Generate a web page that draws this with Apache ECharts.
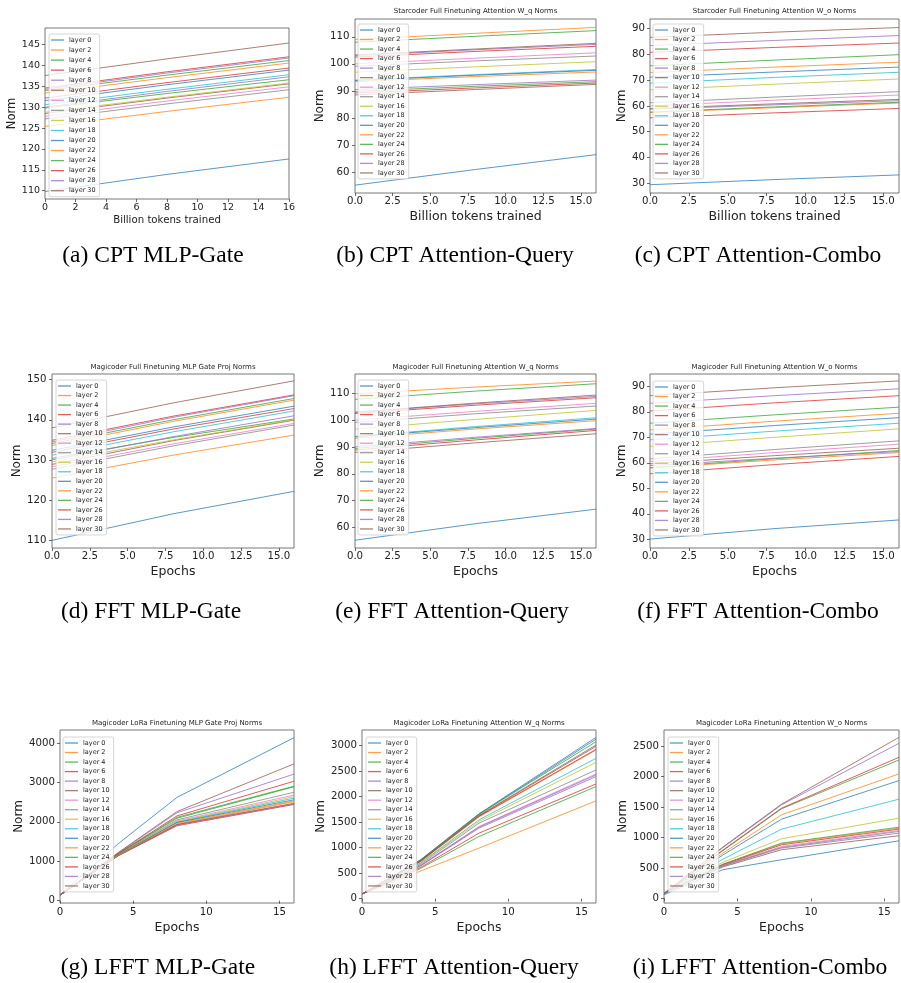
<!DOCTYPE html>
<html>
<head>
<meta charset="utf-8">
<script src="https://cdn.jsdelivr.net/npm/echarts@6/dist/echarts.min.js"></script>
<style>
html,body{margin:0;padding:0;background:#fff;}
#chart{width:901px;height:983px;}
</style>
</head>
<body>
<div id="chart"></div>
<script>
// ---------- data ----------
const layers = ['layer 0','layer 2','layer 4','layer 6','layer 8','layer 10','layer 12','layer 14',
  'layer 16','layer 18','layer 20','layer 22','layer 24','layer 26','layer 28','layer 30'];
const layerColors = ['#1f77b4','#ff7f0e','#2ca02c','#d62728','#9467bd','#8c564b','#e377c2','#7f7f7f',
  '#bcbd22','#17becf','#1f77b4','#ff7f0e','#2ca02c','#d62728','#9467bd','#8c564b'];

const xTokens = [0, 8, 16];
const xEpochsFull = [0, 8, 16];
const xEpochsLora = [0, 4, 8, 16];

// (a) Starcoder CPT MLP gate
const cptMlpGate = [
  [109.8,113.9,117.6],[125.4,129.0,132.4],[129.8,133.3,136.6],[134.6,138.5,142.1],
  [134.3,138.2,141.8],[128.5,132.2,135.6],[127.8,131.5,134.9],[127.2,130.8,134.2],
  [128.8,132.4,135.8],[130.6,134.3,137.8],[131.6,135.4,138.9],[133.4,137.1,140.6],
  [134.0,137.7,141.2],[132.2,135.9,139.4],[130.0,133.8,137.3],[137.6,141.6,145.4]];
// (b) Starcoder CPT attention W_q
const cptAttnQ = [
  [55.1,60.9,66.4],[109.0,111.3,113.5],[108.0,110.2,112.3],[102.5,104.6,106.5],
  [103.0,105.2,107.2],[103.3,105.5,107.6],[100.0,102.1,104.1],[99.1,101.1,102.9],
  [96.9,98.9,100.8],[94.0,96.0,97.9],[93.8,95.8,97.6],[93.4,95.3,97.0],
  [89.8,91.7,93.4],[89.2,91.1,92.9],[90.5,92.3,94.0],[88.5,90.5,92.4]];
// (c) Starcoder CPT attention W_o
const cptAttnO = [
  [29.5,31.5,33.3],[57.4,59.3,61.1],[57.6,59.6,61.4],[55.4,57.3,59.0],
  [58.7,60.4,62.0],[59.0,60.8,62.5],[60.0,62.2,64.2],[61.2,63.4,65.5],
  [66.2,68.4,70.4],[68.8,71.0,73.0],[71.1,73.1,75.0],[72.9,75.0,76.9],
  [75.5,77.7,79.8],[80.7,82.6,84.3],[83.3,85.3,87.2],[86.5,88.5,90.3]];
// (d) Magicoder FFT MLP gate
const fftMlpGate = [
  [110.0,116.6,122.2],[125.5,131.2,136.2],[130.4,135.6,140.2],[134.9,140.9,146.2],
  [134.5,140.6,146.0],[128.9,134.8,139.9],[128.3,134.0,139.1],[127.7,133.5,138.7],
  [129.5,135.0,140.0],[131.2,137.0,142.2],[132.4,138.2,143.4],[133.6,139.6,144.9],
  [134.1,140.0,145.3],[131.9,137.7,142.8],[130.0,135.8,141.0],[138.0,144.2,149.7]];
// (e) Magicoder FFT attention W_q
const fftAttnQ = [
  [55.1,61.3,66.75],[110.0,112.5,114.75],[107.9,111.0,113.75],[102.6,105.7,108.5],
  [103.0,106.2,109.0],[103.1,106.5,109.5],[100.1,103.4,106.4],[99.25,102.5,105.4],
  [96.75,100.4,103.75],[94.0,97.7,101.0],[93.8,97.3,100.5],[93.25,96.8,99.9],
  [89.5,93.3,96.75],[88.9,92.7,96.25],[90.1,93.7,97.0],[88.0,91.6,95.0]];
// (f) Magicoder FFT attention W_o
const fftAttnO = [
  [30.1,34.2,37.6],[57.9,61.1,64.0],[58.1,61.6,64.8],[55.7,59.3,62.5],
  [58.9,61.8,64.4],[59.6,62.8,65.7],[60.5,64.0,67.3],[61.5,65.2,68.6],
  [66.4,70.0,73.3],[69.0,72.4,75.5],[71.2,74.6,77.7],[72.9,76.3,79.4],
  [75.5,78.8,81.8],[80.3,83.5,86.3],[83.3,86.3,89.0],[86.3,89.4,92.1]];
// (g) Magicoder LoRA MLP gate
const loraMlpGate = [
  [150,1450,2620,4135],[140,1150,1940,2510],[140,1190,2090,2890],[140,1140,1900,2440],
  [140,1145,1920,2455],[140,1150,1930,2470],[140,1170,2020,2680],[140,1175,2050,2750],
  [140,1165,2000,2640],[140,1160,1990,2600],[140,1160,1980,2560],[140,1155,1960,2530],
  [140,1195,2115,2905],[140,1200,2150,3030],[140,1215,2230,3210],[140,1225,2260,3470]];
// (h) Magicoder LoRA attention W_q
const loraAttnQ = [
  [90,755,1650,3120],[90,540,989,1913],[90,590,1217,2193],[90,610,1282,2245],
  [90,640,1380,2388],[90,735,1620,2980],[90,650,1412,2440],[90,670,1477,2518],
  [90,690,1510,2667],[90,700,1542,2746],[90,760,1660,3155],[90,720,1600,2908],
  [90,750,1655,3071],[90,730,1610,2921],[90,645,1400,2420],[90,740,1630,3006]];
// (i) Magicoder LoRA attention W_o
const loraAttnO = [
  [60,470,633,944],[80,555,895,1151],[80,560,906,1167],[80,550,878,1135],
  [80,530,824,1069],[80,515,797,1026],[80,540,851,1113],[80,535,835,1097],
  [80,590,977,1315],[80,640,1135,1626],[80,710,1298,1931],[80,740,1369,2040],
  [80,780,1468,2269],[80,790,1478,2313],[80,830,1533,2542],[80,840,1544,2640]];

// tick labels
const xTicksTokensA = [0,2,4,6,8,10,12,14,16];
const xTicksHalf = [0,2.5,5,7.5,10,12.5,15];
const xTicksLora = [0,5,10,15];
const yTicksA = [110,115,120,125,130,135,140,145];
const yTicksB = [60,70,80,90,100,110];
const yTicksC = [30,40,50,60,70,80,90];
const yTicksD = [110,120,130,140,150];
const yTicksE = [60,70,80,90,100,110];
const yTicksF = [30,40,50,60,70,80,90];
const yTicksG = [0,1000,2000,3000,4000];
const yTicksH = [0,500,1000,1500,2000,2500,3000];
const yTicksI = [0,500,1000,1500,2000,2500];

const panelTitles = ['',
  'Starcoder Full Finetuning Attention W_q Norms',
  'Starcoder Full Finetuning Attention W_o Norms',
  'Magicoder Full Finetuning MLP Gate Proj Norms',
  'Magicoder Full Finetuning Attention W_q Norms',
  'Magicoder Full Finetuning Attention W_o Norms',
  'Magicoder LoRa Finetuning MLP Gate Proj Norms',
  'Magicoder LoRa Finetuning Attention W_q Norms',
  'Magicoder LoRa Finetuning Attention W_o Norms'];
const captions = ['(a) CPT MLP-Gate','(b) CPT Attention-Query','(c) CPT Attention-Combo',
  '(d) FFT MLP-Gate','(e) FFT Attention-Query','(f) FFT Attention-Combo',
  '(g) LFFT MLP-Gate','(h) LFFT Attention-Query','(i) LFFT Attention-Combo'];
const xNames = ['Billion tokens trained','Billion tokens trained','Billion tokens trained',
  'Epochs','Epochs','Epochs','Epochs','Epochs','Epochs'];
const yName = 'Norm';

// ---------- layout (positions / styles) ----------
const panels = [
  {data:cptMlpGate, x:xTokens, yr:[108,149], yt:yTicksA, xt:xTicksTokensA, fmt:0,
   grid:[45,28,244,171], leg:[49,34], gap:3.05, tick:9.5, yNameFs:11.5, xNameFs:10.2, yGap:26, xGap:16, xm:3.5, ym:5, cap:[153,256], ty:null},
  {data:cptAttnQ, x:xTokens, yr:[52.2,116.6], yt:yTicksB, xt:xTicksHalf, fmt:1,
   grid:[355,19,241,174], leg:[358,24], gap:2.53, tick:10.2, yNameFs:12, xNameFs:12.5, yGap:28.5, xGap:16.8, xm:3, ym:5.5, cap:[455,256], ty:11.3},
  {data:cptAttnO, x:xTokens, yr:[26.3,93.6], yt:yTicksC, xt:xTicksHalf, fmt:1,
   grid:[650,19,249,174], leg:[653,24], gap:2.53, tick:10.2, yNameFs:12, xNameFs:12.5, yGap:21, xGap:16.8, xm:3, ym:5, cap:[758,256], ty:11.3},
  {data:fftMlpGate, x:xEpochsFull, yr:[108.1,151.4], yt:yTicksD, xt:xTicksHalf, fmt:1,
   grid:[52,374,242,174], leg:[56,380], gap:2.53, tick:10.2, yNameFs:12, xNameFs:12.5, yGap:27.7, xGap:17.5, xm:3.5, ym:5.5, cap:[151,612], ty:367.3},
  {data:fftAttnQ, x:xEpochsFull, yr:[52.2,117.4], yt:yTicksE, xt:xTicksHalf, fmt:1,
   grid:[355,374,241,174], leg:[358,380], gap:2.53, tick:10.2, yNameFs:12, xNameFs:12.5, yGap:28, xGap:17.5, xm:3.5, ym:5.5, cap:[452,612], ty:367.3},
  {data:fftAttnO, x:xEpochsFull, yr:[26.6,94.8], yt:yTicksF, xt:xTicksHalf, fmt:1,
   grid:[650,374,249,174], leg:[653,381], gap:2.53, tick:10.2, yNameFs:12, xNameFs:12.5, yGap:21, xGap:17.5, xm:3.5, ym:5, cap:[758,612], ty:367.3},
  {data:loraMlpGate, x:xEpochsLora, yr:[-60,4330], yt:yTicksG, xt:xTicksLora, fmt:0,
   grid:[60,730,234,173], leg:[63,737], gap:2.53, tick:10.2, yNameFs:12, xNameFs:12.5, yGap:35.5, xGap:18.5, xm:4.5, ym:5, cap:[158,968], ty:723.3},
  {data:loraAttnQ, x:xEpochsLora, yr:[-85,3300], yt:yTicksH, xt:xTicksLora, fmt:0,
   grid:[362,730,234,173], leg:[366,737], gap:2.53, tick:10.2, yNameFs:12, xNameFs:12.5, yGap:35, xGap:18.5, xm:4.5, ym:5, cap:[454,968], ty:723.3},
  {data:loraAttnO, x:xEpochsLora, yr:[-76,2760], yt:yTicksI, xt:xTicksLora, fmt:0,
   grid:[664,730,235,173], leg:[668,737], gap:2.53, tick:10.2, yNameFs:12, xNameFs:12.5, yGap:35, xGap:18.5, xm:4.5, ym:5, cap:[760,968], ty:723.3}
];

const FONT = 'DejaVu Sans';
const grids = [], xAxes = [], yAxes = [], series = [], legends = [], titles = [];

panels.forEach((p, i) => {
  grids.push({left:p.grid[0], top:p.grid[1], width:p.grid[2], height:p.grid[3],
    show:true, borderColor:'#555', borderWidth:0.8, backgroundColor:'transparent', containLabel:false});
  xAxes.push({
    gridIndex:i, type:'value', min:0, max:16,
    axisLine:{show:false},
    axisTick:{show:true, length:3, customValues:p.xt, lineStyle:{color:'#444', width:0.8}},
    axisLabel:{customValues:p.xt, fontSize:p.tick, fontFamily:FONT, color:'#222', margin:p.xm,
      formatter: (v) => p.fmt ? Number(v).toFixed(1) : String(v)},
    splitLine:{show:false},
    name:xNames[i], nameLocation:'middle', nameGap:p.xGap,
    nameTextStyle:{fontSize:p.xNameFs, fontFamily:FONT, color:'#222'}
  });
  yAxes.push({
    gridIndex:i, type:'value', min:p.yr[0], max:p.yr[1],
    axisLine:{show:false},
    axisTick:{show:true, length:3, customValues:p.yt, lineStyle:{color:'#444', width:0.8}},
    axisLabel:{customValues:p.yt, fontSize:p.tick, fontFamily:FONT, color:'#222', margin:p.ym,
      formatter: (v) => String(v)},
    splitLine:{show:false},
    name:yName, nameLocation:'middle', nameGap:p.yGap,
    nameTextStyle:{fontSize:p.yNameFs, fontFamily:FONT, color:'#222'}
  });
  p.data.forEach((row, j) => {
    series.push({
      type:'line', name:layers[j], xAxisIndex:i, yAxisIndex:i,
      data: p.x.map((xv, k) => [xv, row[k]]),
      symbol:'none', silent:true, animation:false,
      lineStyle:{width:1, color:layerColors[j], opacity:0.75},
      itemStyle:{color:layerColors[j], opacity:0.75},
      emphasis:{disabled:true}
    });
  });
  legends.push({
    data:layers, orient:'vertical', left:p.leg[0], top:p.leg[1],
    icon:'rect', itemWidth:13, itemHeight:1.3, itemGap:p.gap,
    padding:[2.5,4,2.5,2], borderColor:'#ccc', borderWidth:0.8, borderRadius:2,
    backgroundColor:'rgba(255,255,255,0.8)', selectedMode:false,
    itemStyle:{opacity:0.75},
    textStyle:{fontSize:6.5, lineHeight:7, color:'#222', fontFamily:FONT}
  });
  if (panelTitles[i]) {
    titles.push({text:panelTitles[i], left:p.grid[0] + p.grid[2]/2, top:p.ty - 3.6, textAlign:'center', padding:0,
      textStyle:{fontSize:7, fontWeight:'normal', fontFamily:FONT, color:'#222'}});
  }
  titles.push({text:captions[i], left:p.cap[0], top:p.cap[1] - 12, textAlign:'center', padding:0,
    textStyle:{fontSize:23.5, fontWeight:'normal', fontFamily:'Liberation Serif', color:'#000'}});
});

const chart = echarts.init(document.getElementById('chart'), null, {renderer:'canvas'});
chart.setOption({
  animation:false,
  backgroundColor:'#fff',
  title:titles,
  grid:grids, xAxis:xAxes, yAxis:yAxes,
  legend:legends,
  series:series
});
</script>
</body>
</html>
